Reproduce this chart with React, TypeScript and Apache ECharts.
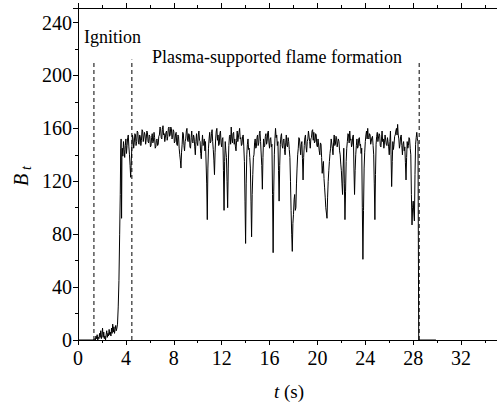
import React, { useEffect, useRef } from "react";
import * as echarts from "echarts";

// Baseline before ignition (s, value)
const preTimes = [0, 1.3];
const preValues = [0, 0];

// Ignition phase, sampled every 0.05 s from 1.35 s
const ignitionStart = 1.35;
const ignitionStep = 0.05;
const ignitionValues = [
  0, 1, 0, 3, 1, 4, 0, 2, 1, 5, 2, 7, 1, 4, 9, 2, 6, 1, 3, 0,
  4, 7, 2, 5, 3, 8, 4, 6, 3, 9, 5, 12, 6, 10, 5, 8, 11, 7, 9,
];

// Steep rise
const riseTimes = [3.3, 3.36, 3.42, 3.48, 3.53, 3.57, 3.6, 3.64, 3.67];
const riseValues = [12, 25, 45, 80, 110, 145, 152, 92, 138];

// Plasma-supported flame, sampled every 0.05 s from 3.7 s (one row per second)
const plateauStart = 3.7;
const plateauStep = 0.05;
const plateauValues = [
  145, 139, 150, 144, 138, 147, 152, 141, 147, 153, 155, 146, 140, 132, 123, 135, 146, 155, 152, 145,
  149, 156, 155, 147, 150, 158, 157, 149, 148, 155, 154, 147, 151, 159, 158, 150, 150, 157, 155, 148,
  152, 158, 157, 150, 149, 155, 154, 146, 147, 153, 156, 149, 150, 157, 153, 145, 146, 151, 152, 147,
  148, 154, 155, 161, 160, 153, 152, 159, 162, 155, 156, 150, 150, 157, 158, 151, 154, 160, 161, 154,
  155, 161, 160, 152, 153, 159, 158, 149, 150, 156, 157, 148, 147, 155, 154, 145, 140, 136, 130, 142,
  148, 157, 156, 147, 143, 150, 152, 158, 160, 151, 150, 156, 155, 146, 145, 153, 158, 150, 149, 155,
  153, 146, 140, 150, 156, 149, 147, 155, 158, 151, 150, 141, 137, 148, 155, 147, 148, 152, 143, 150,
  150, 118, 91, 130, 145, 152, 157, 149, 150, 156, 159, 150, 144, 136, 125, 142, 152, 158, 160, 151,
  155, 147, 148, 156, 158, 149, 146, 152, 153, 128, 98, 135, 150, 143, 138, 120, 100, 130, 147, 154,
  155, 148, 161, 152, 149, 156, 157, 148, 152, 146, 143, 151, 158, 150, 150, 157, 160, 152, 153, 147,
  148, 154, 155, 146, 135, 105, 73, 118, 140, 148, 152, 144, 145, 138, 130, 105, 78, 110, 125, 138,
  140, 149, 152, 145, 146, 153, 155, 147, 149, 156, 158, 150, 150, 132, 114, 138, 152, 146, 147, 154,
  156, 148, 150, 157, 158, 149, 145, 152, 153, 146, 148, 110, 66, 112, 140, 152, 160, 153, 155, 147,
  150, 128, 105, 132, 148, 154, 156, 147, 145, 151, 152, 144, 140, 149, 155, 147, 146, 153, 150, 144,
  138, 120, 98, 80, 67, 88, 95, 106, 110, 98, 100, 118, 130, 140, 145, 153, 152, 146, 140, 148,
  150, 137, 121, 138, 147, 153, 155, 146, 142, 150, 152, 158, 158, 150, 145, 152, 153, 158, 159, 151,
  157, 149, 150, 156, 155, 147, 146, 152, 152, 143, 140, 149, 148, 138, 126, 132, 135, 122, 115, 108,
  100, 96, 92, 108, 120, 128, 135, 141, 145, 152, 152, 145, 140, 149, 155, 147, 148, 154, 153, 146,
  146, 152, 150, 143, 140, 133, 128, 118, 110, 130, 145, 118, 91, 112, 135, 145, 150, 156, 155, 149,
  158, 151, 152, 146, 148, 154, 155, 130, 110, 128, 140, 147, 152, 145, 146, 152, 153, 147, 148, 141,
  145, 100, 61, 98, 130, 142, 150, 155, 158, 152, 160, 153, 152, 156, 155, 148, 148, 153, 154, 147,
  140, 118, 91, 125, 148, 154, 157, 150, 150, 156, 155, 147, 146, 152, 158, 150, 152, 145, 149, 155,
  155, 148, 147, 153, 153, 146, 140, 150, 158, 140, 116, 135, 150, 144, 148, 154, 155, 158, 160, 155,
  163, 155, 152, 145, 148, 154, 155, 147, 140, 148, 150, 143, 146, 134, 121, 138, 150, 145, 147, 153,
  152, 145, 140, 110, 87, 100, 105, 96, 90, 125, 148, 153, 157, 152, 150,
];

// Extinction
const endTimes = [28.46, 29.9];
const endValues = [0, 0];

// Dashed phase markers
const markerTimes = [1.33, 4.5, 28.5];
const markerTops = [210, 212, 211];

// Axes
const xMin = 0;
const xMax = 35;
const xInterval = 4;
const yMin = 0;
const yMax = 251;
const yInterval = 40;

const FONT = "serif";

function buildSeries(): number[][] {
  const pts: number[][] = [];
  preTimes.forEach((t, i) => pts.push([t, preValues[i]]));
  ignitionValues.forEach((v, i) =>
    pts.push([+(ignitionStart + i * ignitionStep).toFixed(3), v])
  );
  riseTimes.forEach((t, i) => pts.push([t, riseValues[i]]));
  plateauValues.forEach((v, i) =>
    pts.push([+(plateauStart + i * plateauStep).toFixed(3), v])
  );
  endTimes.forEach((t, i) => pts.push([t, endValues[i]]));
  return pts;
}

export default function App() {
  const ref = useRef<HTMLDivElement>(null);
  useEffect(() => {
    if (!ref.current) return;
    const chart = echarts.init(ref.current, null, { renderer: "svg" });
    const axisCommon = {
      type: "value" as const,
      min: xMin,
      max: xMax,
      interval: xInterval,
      splitLine: { show: false },
      axisLine: { show: true, onZero: false, lineStyle: { color: "#000", width: 1 } },
      axisTick: { show: true, inside: false, length: 5, lineStyle: { color: "#000" } },
      minorTick: { show: true, splitNumber: 2, length: 3, lineStyle: { color: "#000" } },
    };
    const markerSeries = markerTimes.map((t, i) => ({
      type: "line" as const,
      data: [
        [t, 0],
        [t, markerTops[i]],
      ],
      showSymbol: false,
      silent: true,
      lineStyle: { color: "#000", width: 1, type: [4, 3] as any },
      z: 1,
    }));
    chart.setOption({
      animation: false,
      backgroundColor: "#fff",
      grid: { left: 78, right: -3, top: 8, bottom: 65 },
      xAxis: [
        {
          ...axisCommon,
          position: "bottom",
          axisLabel: {
            show: true,
            margin: 8,
            fontFamily: FONT,
            fontSize: 20,
            color: "#000",
            showMaxLabel: false,
          },
        },
        {
          ...axisCommon,
          position: "top",
          axisLabel: { show: false },
        },
      ],
      yAxis: {
        type: "value",
        min: yMin,
        max: yMax,
        interval: yInterval,
        splitLine: { show: false },
        axisLine: { show: true, onZero: false, lineStyle: { color: "#000", width: 1 } },
        axisTick: { show: true, inside: false, length: 5, lineStyle: { color: "#000" } },
        minorTick: { show: true, splitNumber: 2, length: 3, lineStyle: { color: "#000" } },
        axisLabel: {
          show: true,
          margin: 6,
          fontFamily: FONT,
          fontSize: 20,
          color: "#000",
          showMaxLabel: false,
        },
      },
      series: [
        ...markerSeries,
        {
          type: "line",
          data: buildSeries(),
          showSymbol: false,
          silent: true,
          lineStyle: { color: "#000", width: 1 },
          z: 2,
        },
      ],
      graphic: [
        {
          type: "text",
          x: 84,
          y: 37,
          style: {
            text: "Ignition",
            font: "18px serif",
            fill: "#000",
            align: "left",
            verticalAlign: "middle",
          },
        },
        {
          type: "text",
          x: 152,
          y: 57,
          style: {
            text: "Plasma-supported flame formation",
            font: "18px serif",
            fill: "#000",
            align: "left",
            verticalAlign: "middle",
          },
        },
        {
          type: "text",
          x: 289,
          y: 391,
          style: {
            text: "{i|t} (s)",
            font: "19px serif",
            fill: "#000",
            align: "center",
            verticalAlign: "middle",
            rich: {
              i: { font: "italic 19px serif" },
            },
          },
        },
        {
          type: "text",
          x: 21,
          y: 180,
          rotation: Math.PI / 2,
          style: {
            text: "B",
            font: "italic 20px serif",
            fill: "#000",
            align: "center",
            verticalAlign: "middle",
          },
        },
        {
          type: "text",
          x: 26,
          y: 168,
          rotation: Math.PI / 2,
          style: {
            text: "t",
            font: "italic 14px serif",
            fill: "#000",
            align: "center",
            verticalAlign: "middle",
          },
        },
      ],
    });
    return () => chart.dispose();
  }, []);
  return (
    <div
      ref={ref}
      style={{ position: "absolute", left: 0, top: 0, width: 497, height: 405 }}
    />
  );
}
